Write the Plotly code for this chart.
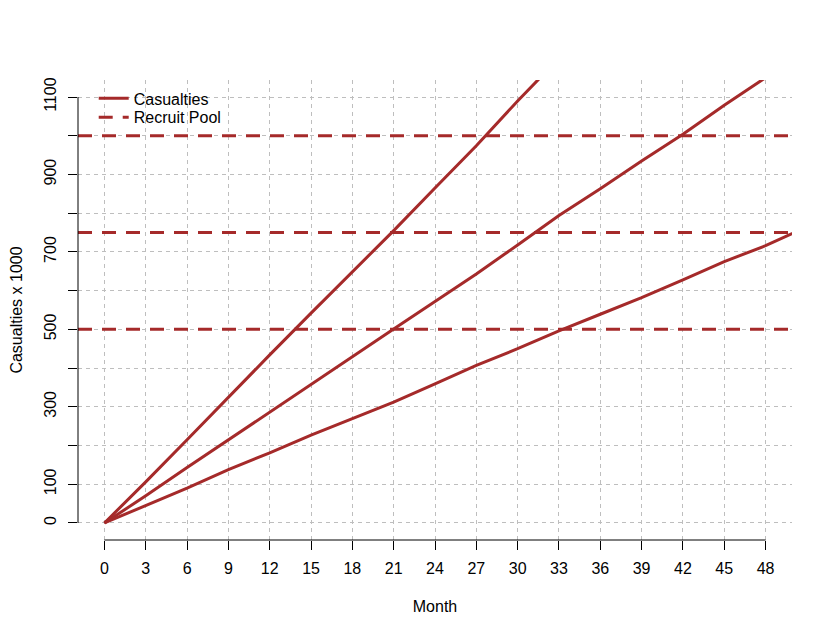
import plotly.graph_objects as go

months = [0, 3, 6, 9, 12, 15, 18, 21, 24, 27, 30, 33, 36, 39, 42, 45, 48, 51]

# cumulative casualties (x 1000), three scenarios
casualties_high = [0, 106, 215, 325, 434, 542, 649, 755, 865, 974, 1090, 1200]
casualties_mid = [0, 70, 143, 215, 286, 359, 430, 501, 572, 643, 718, 794,
                  863, 935, 1004, 1079, 1150, 1220]
casualties_low = [0, 45, 90, 138, 181, 227, 269, 312, 359, 407, 450, 496,
                  539, 582, 628, 675, 716, 765]

# recruit pool levels
recruit_pool = [500, 750, 1000]

x_ticks = list(range(0, 49, 3))
y_ticks = list(range(0, 1101, 100))
y_labels = [str(v) if (v == 0 or (v // 100) % 2 == 1) else "" for v in y_ticks]

RED = "#A52A2A"
FONT = "Liberation Sans, Arial, sans-serif"
DASH = "14px,10px"

fig = go.Figure()

first = True
for vals in [casualties_high, casualties_mid, casualties_low]:
    fig.add_trace(go.Scatter(
        x=months[:len(vals)], y=vals, mode="lines",
        line=dict(color=RED, width=3),
        name="Casualties", legendgroup="cas", showlegend=first,
        legend="legend",
    ))
    first = False

for lvl in recruit_pool:
    fig.add_hline(y=lvl, line=dict(color=RED, width=3, dash=DASH))

# legend entry for the pool lines
fig.add_trace(go.Scatter(
    x=[None], y=[None], mode="lines",
    line=dict(color=RED, width=3, dash=DASH),
    name="Recruit Pool", legend="legend2",
))

# R-style axis lines that only span the tick range
fig.add_shape(type="line", xref="x", yref="paper",
              x0=x_ticks[0], x1=x_ticks[-1], y0=0, y1=0,
              line=dict(color="black", width=1))
fig.add_shape(type="line", xref="paper", yref="y",
              x0=0, x1=0, y0=y_ticks[0], y1=y_ticks[-1],
              line=dict(color="black", width=1))

xpad = (x_ticks[-1] - x_ticks[0]) * 0.04
ypad = (y_ticks[-1] - y_ticks[0]) * 0.04

fig.update_xaxes(
    range=[x_ticks[0] - xpad, x_ticks[-1] + xpad],
    tickvals=x_ticks, ticks="outside", ticklen=9, tickcolor="black",
    showline=False, zeroline=False, automargin=False,
    showgrid=True, gridcolor="#BEBEBE", griddash="4px,4px", gridwidth=1,
    tickfont=dict(family=FONT, size=16, color="black"),
    ticklabelstandoff=5,
    title=dict(text="Month", font=dict(family=FONT, size=16, color="black"),
               standoff=24),
)
fig.update_yaxes(
    range=[y_ticks[0] - ypad, y_ticks[-1] + ypad],
    tickvals=y_ticks, ticktext=y_labels, tickangle=-90,
    ticks="outside", ticklen=9, tickcolor="black",
    showline=False, zeroline=False, automargin=False,
    showgrid=True, gridcolor="#BEBEBE", griddash="4px,4px", gridwidth=1,
    tickfont=dict(family=FONT, size=16, color="black"),
    ticklabelstandoff=6,
    title=dict(text="Casualties x 1000",
               font=dict(family=FONT, size=16, color="black"), standoff=18),
)

legend_style = dict(xanchor="left", yanchor="middle",
                    bgcolor="rgba(0,0,0,0)", borderwidth=0,
                    font=dict(family=FONT, size=16, color="black"),
                    itemwidth=30)

# page body adds an 8px offset, so margins are trimmed on the top/left
fig.update_layout(
    width=832, height=638,
    margin=dict(l=70, r=48, t=72, b=106),
    paper_bgcolor="white", plot_bgcolor="white",
    font=dict(family=FONT, size=16, color="black"),
    legend=dict(x=0.022, y=0.96, **legend_style),
    legend2=dict(x=0.022, y=0.919, **legend_style),
)

fig.write_html("out.html")
